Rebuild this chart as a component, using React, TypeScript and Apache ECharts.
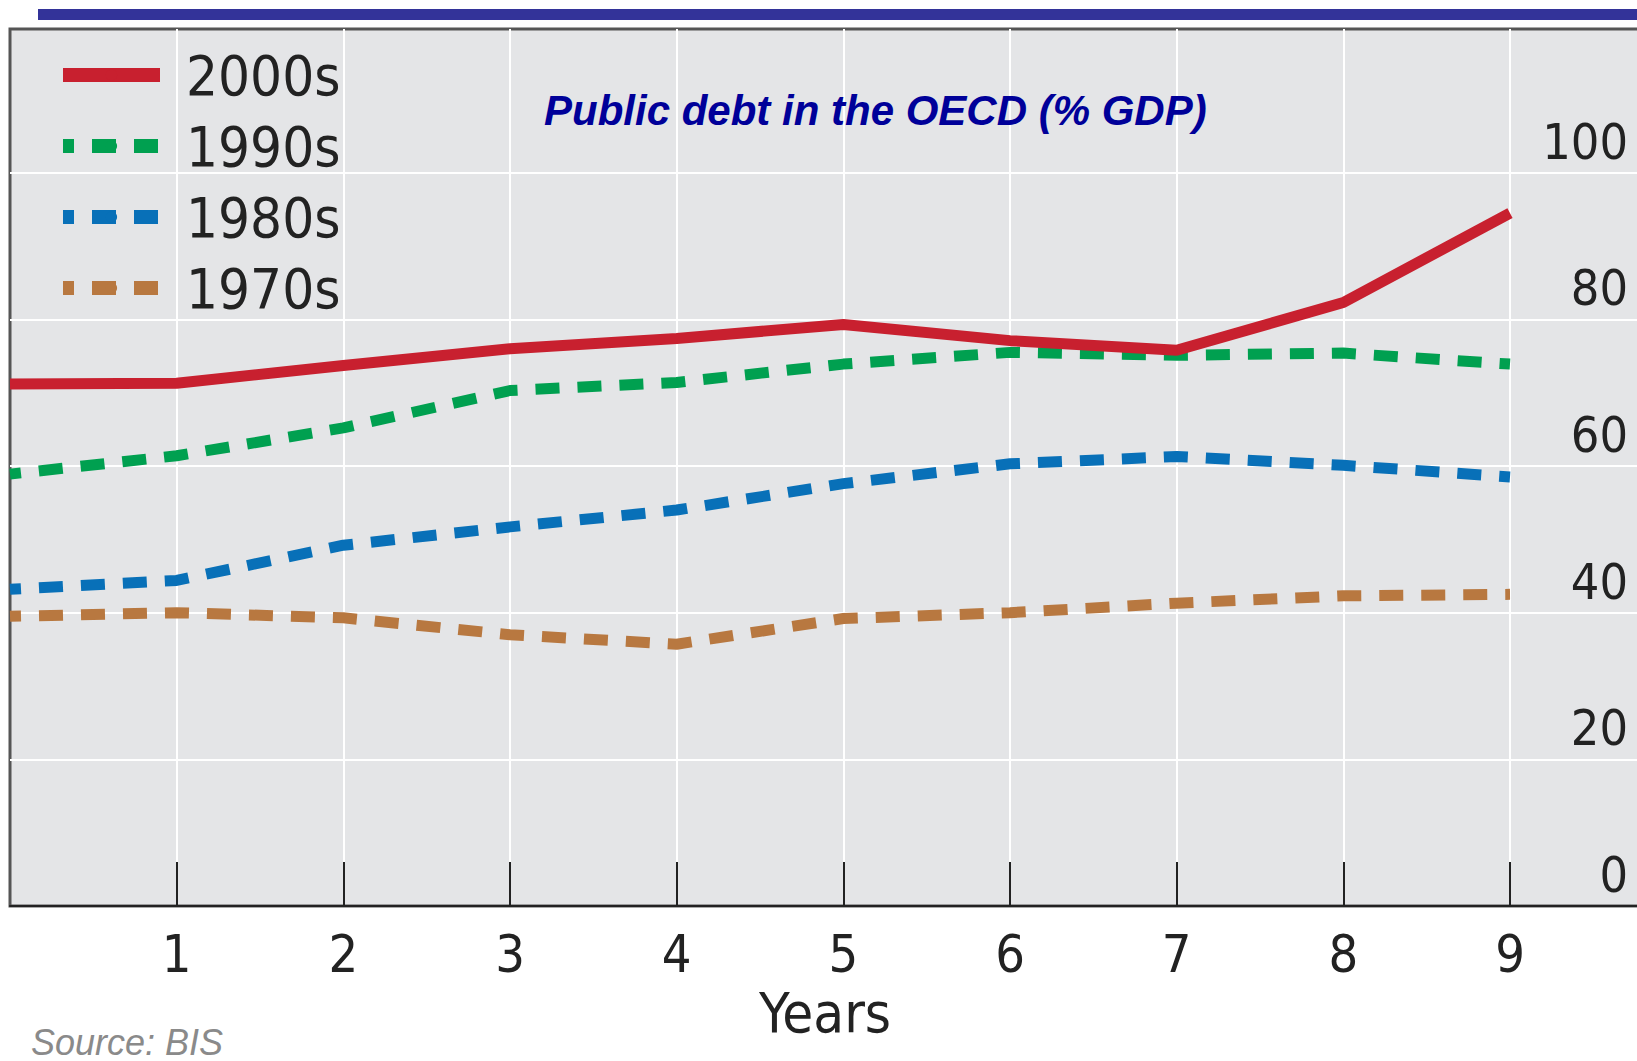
import React, { useEffect, useRef } from "react";
import * as echarts from "echarts";

const years = [0, 1, 2, 3, 4, 5, 6, 7, 8, 9];
const tickYears = [1, 2, 3, 4, 5, 6, 7, 8, 9];
const yTicks = [0, 20, 40, 60, 80, 100];
const debt2000s = [71.2, 71.3, 73.7, 76.0, 77.4, 79.3, 77.1, 75.8, 82.3, 94.5];
const debt1990s = [58.9, 61.4, 65.2, 70.3, 71.4, 73.9, 75.5, 75.1, 75.4, 73.9];
const debt1980s = [43.2, 44.4, 49.2, 51.7, 54.0, 57.6, 60.3, 61.3, 60.1, 58.5];
const debt1970s = [39.5, 40.0, 39.3, 37.0, 35.7, 39.2, 40.0, 41.3, 42.3, 42.5];
const seriesNames = ["2000s", "1990s", "1980s", "1970s"];

const NARROW = '"Liberation Sans Narrow", "DejaVu Sans Condensed", "Roboto Condensed", "Liberation Sans", sans-serif';
const ARIAL = '"Liberation Sans", Arial, sans-serif';

export default function App() {
  const ref = useRef<HTMLDivElement>(null);
  useEffect(() => {
    if (!ref.current) return;
    const chart = echarts.init(ref.current, null, { renderer: "svg" });
    const pair = (vals: number[]) => years.map((y, i) => [y, vals[i]]);
    const dash = { type: [24, 18] as any, dashOffset: 13, cap: "butt" as any };
    chart.setOption({
      animation: false,
      backgroundColor: "#ffffff",
      title: [
        {
          text: "Public debt in the OECD (% GDP)",
          left: 544,
          top: 88,
          padding: 0,
          textStyle: {
            fontFamily: ARIAL,
            fontSize: 42,
            lineHeight: 44,
            fontStyle: "italic",
            fontWeight: "bold",
            color: "#000099",
          },
        },
        {
          text: "Source: BIS",
          left: 31,
          top: 1024,
          padding: 0,
          textStyle: {
            fontFamily: ARIAL,
            fontSize: 36,
            lineHeight: 36,
            fontStyle: "italic",
            fontWeight: "normal",
            color: "#8a8a8a",
          },
        },
      ],
      graphic: [
        {
          type: "rect",
          shape: { x: 38, y: 9, width: 1599, height: 11 },
          style: { fill: "#333399" },
          silent: true,
        },
      ],
      legend: {
        orient: "vertical",
        left: 56,
        top: 45,
        padding: 0,
        itemWidth: 97,
        itemHeight: 14,
        itemGap: 11,
        data: seriesNames,
        lineStyle: { width: 14 },
        textStyle: {
          fontFamily: NARROW,
          fontSize: 56,
          lineHeight: 60,
          color: "#222222",
          padding: [0, 0, 0, 21],
        },
      },
      grid: {
        left: 10,
        right: -3,
        top: 29,
        bottom: 155,
        outerBoundsMode: "none",
        show: true,
        backgroundColor: "#E4E5E7",
        borderColor: "#555555",
        borderWidth: 3,
      },
      xAxis: {
        type: "value",
        min: 0,
        max: 9.78,
        interval: 1,
        name: "Years",
        nameLocation: "middle",
        nameGap: 74,
        nameTextStyle: { fontFamily: NARROW, fontSize: 56, color: "#222222" },
        axisLine: { show: true, onZero: false, lineStyle: { color: "#222222", width: 2 } },
        axisTick: {
          show: true,
          inside: true,
          length: 44,
          customValues: tickYears,
          lineStyle: { color: "#222222", width: 2 },
        },
        axisLabel: {
          customValues: tickYears,
          margin: 22,
          fontFamily: NARROW,
          fontSize: 52,
          color: "#222222",
        },
        splitLine: { show: true, lineStyle: { color: "#ffffff", width: 2 } },
      },
      yAxis: {
        type: "value",
        position: "right",
        min: 0,
        max: 119.6,
        interval: 20,
        axisLine: { show: false },
        axisTick: { show: false, customValues: [20, 40, 60, 80, 100] },
        axisLabel: {
          customValues: yTicks,
          inside: true,
          margin: 12,
          verticalAlign: "bottom",
          padding: [0, 0, 6, 0],
          fontFamily: NARROW,
          fontSize: 50,
          lineHeight: 50,
          color: "#222222",
        },
        splitLine: { show: true, lineStyle: { color: "#ffffff", width: 2 } },
      },
      series: [
        {
          name: "2000s",
          type: "line",
          data: pair(debt2000s),
          symbol: "none",
          showSymbol: false,
          z: 5,
          lineStyle: { color: "#C8202F", width: 11 },
          itemStyle: { color: "#C8202F" },
        },
        {
          name: "1990s",
          type: "line",
          data: pair(debt1990s),
          symbol: "none",
          showSymbol: false,
          z: 4,
          lineStyle: { color: "#00A050", width: 11, ...dash },
          itemStyle: { color: "#00A050" },
        },
        {
          name: "1980s",
          type: "line",
          data: pair(debt1980s),
          symbol: "none",
          showSymbol: false,
          z: 3,
          lineStyle: { color: "#0870B8", width: 11, ...dash },
          itemStyle: { color: "#0870B8" },
        },
        {
          name: "1970s",
          type: "line",
          data: pair(debt1970s),
          symbol: "none",
          showSymbol: false,
          z: 2,
          lineStyle: { color: "#B87840", width: 11, ...dash },
          itemStyle: { color: "#B87840" },
        },
      ],
    });
    return () => chart.dispose();
  }, []);
  return (
    <div
      ref={ref}
      style={{ position: "absolute", left: 0, top: 0, width: 1637, height: 1061 }}
    />
  );
}
